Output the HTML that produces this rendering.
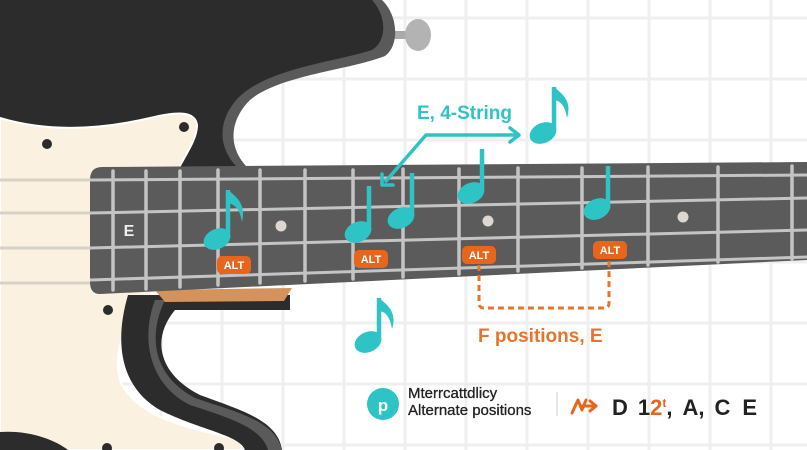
<!DOCTYPE html>
<html><head><meta charset="utf-8"><style>
html,body{margin:0;padding:0;background:#fff;}
svg{display:block;font-family:"Liberation Sans",sans-serif;}
</style></head><body>
<svg width="807" height="450" viewBox="0 0 807 450" xmlns="http://www.w3.org/2000/svg">
<rect width="807" height="450" fill="#fff"/>
<g stroke="#efefef" stroke-width="3">
<line x1="39" y1="0" x2="39" y2="450"/><line x1="100" y1="0" x2="100" y2="450"/><line x1="161" y1="0" x2="161" y2="450"/><line x1="222" y1="0" x2="222" y2="450"/><line x1="283" y1="0" x2="283" y2="450"/><line x1="344" y1="0" x2="344" y2="450"/><line x1="405" y1="0" x2="405" y2="450"/><line x1="466" y1="0" x2="466" y2="450"/><line x1="527" y1="0" x2="527" y2="450"/><line x1="588" y1="0" x2="588" y2="450"/><line x1="649" y1="0" x2="649" y2="450"/><line x1="710" y1="0" x2="710" y2="450"/><line x1="771" y1="0" x2="771" y2="450"/>
<line x1="0" y1="18" x2="807" y2="18"/><line x1="0" y1="79" x2="807" y2="79"/><line x1="0" y1="140" x2="807" y2="140"/><line x1="0" y1="201" x2="807" y2="201"/><line x1="0" y1="262" x2="807" y2="262"/><line x1="0" y1="323" x2="807" y2="323"/><line x1="0" y1="384" x2="807" y2="384"/><line x1="0" y1="445" x2="807" y2="445"/>
</g>
<rect x="393" y="31" width="18" height="8" fill="#aaa"/>
<ellipse cx="418" cy="35" rx="13" ry="16" fill="#b3b3b3"/>
<path d="M0,0 L382,0 C398,15 400,45 385,56 C350,70 280,75 250,100 C228,122 228,150 250,170 L0,170 Z" fill="#5a5a5a"/>
<path d="M0,0 L372,0 C386,15 388,40 372,50 C335,62 268,68 238,98 C216,122 218,150 240,170 L0,170 Z" fill="#2c2c2c"/>
<path d="M0,118 C40,130 90,132 150,118 C175,112 195,110 197,125 C197,140 185,155 175,175 L150,300 C135,320 110,340 120,380 C135,420 200,430 240,440 L245,450 L0,450 Z" fill="#faf1e1" stroke="#fff" stroke-width="2"/>
<path d="M128,295 L290,295 L290,310 L175,310 C150,340 160,375 200,395 C240,410 278,420 282,450 L245,450 C240,435 200,430 160,410 C125,390 112,350 128,295 Z" fill="#2c2c2c"/>
<path d="M165,300 C148,335 152,375 195,398 C235,412 275,420 282,450 L268,450 C262,428 230,418 190,405 C150,385 140,340 155,300 Z" fill="#5a5a5a"/>
<path d="M0,432 C30,430 55,440 68,450 L0,450 Z" fill="#2c2c2c"/>
<g fill="#2c2c2c"><circle cx="47" cy="144" r="5"/><circle cx="184" cy="127" r="5"/><circle cx="108" cy="310" r="5"/><circle cx="107" cy="448" r="5"/><circle cx="219" cy="448" r="5"/></g>
<g stroke="#d8d2c6" stroke-width="3"><line x1="0" y1="180" x2="95" y2="180"/><line x1="0" y1="213" x2="95" y2="213"/><line x1="0" y1="248" x2="95" y2="248"/><line x1="0" y1="283" x2="95" y2="283"/></g>
<path d="M155,290 L292,288 L284,301 L165,302 Z" fill="#d4935c"/>
<path d="M102,167 L807,162 L807,260 L100,294 Q90,294 90,282 L90,180 Q90,167 102,167 Z" fill="#5b5b5b"/>
<g stroke="#c4c4c4" stroke-width="3.5" stroke-linecap="round">
<line x1="113" y1="171" x2="113" y2="290"/><line x1="146" y1="171" x2="146" y2="289"/><line x1="180" y1="171" x2="180" y2="287"/><line x1="218" y1="170" x2="218" y2="285"/><line x1="260" y1="170" x2="260" y2="283"/><line x1="305" y1="170" x2="305" y2="281"/><line x1="353" y1="170" x2="353" y2="279"/><line x1="403" y1="169" x2="403" y2="277"/><line x1="459" y1="169" x2="459" y2="274"/><line x1="518" y1="168" x2="518" y2="271"/><line x1="582" y1="168" x2="582" y2="268"/><line x1="648" y1="167" x2="648" y2="265"/><line x1="718" y1="167" x2="718" y2="262"/><line x1="792" y1="166" x2="792" y2="259"/>
</g>
<g stroke="#c4c4c4" stroke-width="3"><line x1="90" y1="180" x2="807" y2="175"/><line x1="90" y1="213" x2="807" y2="198"/><line x1="90" y1="248" x2="807" y2="230"/><line x1="90" y1="280" x2="807" y2="257"/></g>
<g fill="#ddd8cf"><circle cx="281" cy="226" r="5.5"/><circle cx="488" cy="221" r="5.5"/><circle cx="683" cy="217" r="5.5"/></g>
<text x="129" y="236" font-size="16" font-weight="bold" fill="#eee" text-anchor="middle">E</text>
<g fill="#2ec4c6" stroke="#2ec4c6">
<ellipse cx="217" cy="239" rx="14" ry="10" transform="rotate(-25 217 239)" stroke="none"/><line x1="228" y1="238" x2="228" y2="190" stroke-width="4.5"/><path d="M228,190 C238,198 246,205 242,222 C240,210 236,205 228,203" stroke="none"/>
<ellipse cx="358" cy="232" rx="14" ry="10" transform="rotate(-25 358 232)" stroke="none"/><line x1="369" y1="230" x2="369" y2="186" stroke-width="4.5"/>
<ellipse cx="401" cy="218" rx="14" ry="10" transform="rotate(-25 401 218)" stroke="none"/><line x1="412" y1="216" x2="412" y2="173" stroke-width="4.5"/>
<ellipse cx="471" cy="193" rx="14" ry="10" transform="rotate(-25 471 193)" stroke="none"/><line x1="482" y1="191" x2="482" y2="149" stroke-width="4.5"/>
<ellipse cx="597" cy="209" rx="14" ry="10" transform="rotate(-25 597 209)" stroke="none"/><line x1="608" y1="207" x2="608" y2="166" stroke-width="4.5"/>
<ellipse cx="543" cy="133" rx="14" ry="10" transform="rotate(-25 543 133)" stroke="none"/><line x1="554" y1="131" x2="554" y2="87" stroke-width="4.5"/><path d="M554,87 C564,95 572,102 567,118 C565,106 561,101 554,100" stroke="none"/>
<ellipse cx="368" cy="342" rx="14" ry="10" transform="rotate(-25 368 342)" stroke="none"/><line x1="379" y1="340" x2="379" y2="298" stroke-width="4.5"/><path d="M379,298 C389,306 397,313 392,329 C390,317 386,312 379,311" stroke="none"/>
</g>
<g stroke="#2ec4c6" stroke-width="3.5" fill="none" stroke-linecap="round" stroke-linejoin="round">
<polyline points="386,181 426,135 518,135"/><polyline points="510,128 519,135 510,142"/><polyline points="382,174 382,185 393,185"/>
</g>
<text x="417" y="119" font-size="19" font-weight="bold" fill="#2ec4c6">E, 4-String</text>
<path d="M479,265 L479,303 Q479,308 484,308 L604,308 Q609,308 609,303 L609,260" fill="none" stroke="#e8732a" stroke-width="3" stroke-dasharray="6,4"/>
<g font-size="11" font-weight="bold" fill="#fff" text-anchor="middle">
<rect x="217" y="256" width="34" height="18" rx="5" fill="#e8661c"/><text x="234" y="269">ALT</text>
<rect x="354" y="250" width="34" height="18" rx="5" fill="#e8661c"/><text x="371" y="263">ALT</text>
<rect x="462" y="246" width="34" height="18" rx="5" fill="#e8661c"/><text x="479" y="259">ALT</text>
<rect x="593" y="241" width="34" height="18" rx="5" fill="#e8661c"/><text x="610" y="254">ALT</text>
</g>
<text x="478" y="342" font-size="19" font-weight="bold" fill="#e8732a">F positions, E</text>
<circle cx="383" cy="404" r="16" fill="#2ec4c6"/>
<text x="383" y="411" font-size="17" font-weight="bold" fill="#fff" text-anchor="middle">p</text>
<text x="408" y="398" font-size="15" fill="#222" stroke="#222" stroke-width="0.3">Mterrcattdlicy</text>
<text x="408" y="415" font-size="15" fill="#222" stroke="#222" stroke-width="0.3">Alternate positions</text>
<line x1="557" y1="392" x2="557" y2="416" stroke="#ddd" stroke-width="1.5"/>
<g stroke="#e8661c" stroke-width="3" fill="none" stroke-linecap="round" stroke-linejoin="round">
<path d="M572,413 L578,400 L582,410 L586,400"/><path d="M582,406 L596,406"/><polyline points="590,401 596,406 590,411"/>
</g>
<text x="612" y="415" font-size="22" font-weight="bold" fill="#222">D<tspan dx="10">1</tspan><tspan fill="#e8661c">2</tspan><tspan font-size="12" dy="-8" fill="#e8661c">t</tspan><tspan dy="8">,</tspan><tspan dx="10">A,</tspan><tspan dx="10">C</tspan><tspan dx="12">E</tspan></text>
</svg>
</body></html>
